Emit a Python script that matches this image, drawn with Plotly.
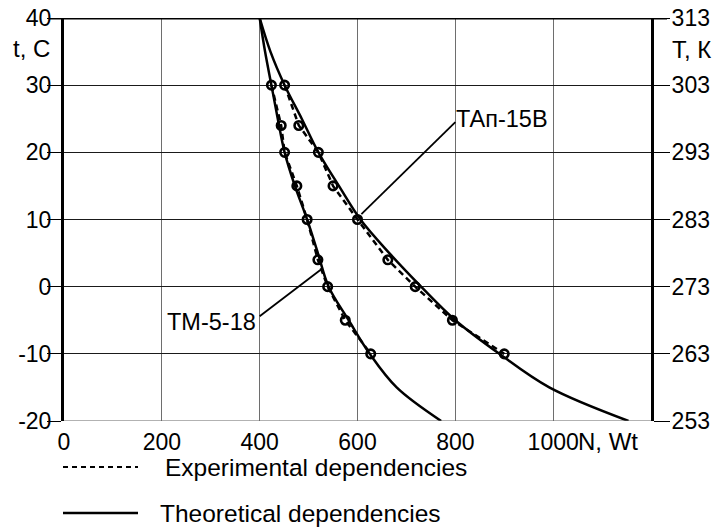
import plotly.graph_objects as go

# Theoretical curves (t in C, N in Wt)
t_theory = [40, 35, 30, 25, 20, 15, 10, 5, 0, -5, -10, -15, -20]
n_theory_tm = [400, 411, 424, 437, 451, 472, 497, 519, 541, 582, 625, 680, 771]
n_theory_tap = [400, 422, 451, 486, 520, 562, 606, 665, 730, 800, 890, 992, 1154]

# Experimental points
t_exp = [30, 24, 20, 15, 10, 4, 0, -5, -10]
n_exp_tm = [424, 444, 451, 476, 497, 519, 539, 575, 627]
n_exp_tap = [451, 480, 520, 550, 600, 662, 718, 794, 900]

x_ticks = [0, 200, 400, 600, 800, 1000]
y_ticks = [-20, -10, 0, 10, 20, 30, 40]
k_ticks = [253, 263, 273, 283, 293, 303, 313]

FONT = "Liberation Sans, Arial, sans-serif"
L, R, T, B = 64, 69, 18, 111
W, H = 720, 532
PW, PH = W - L - R, H - T - B

def px(xp):
    return (xp - L) / PW

def py(yp):
    return (H - B - yp) / PH

fig = go.Figure()

for n in (n_theory_tm, n_theory_tap):
    fig.add_trace(go.Scatter(x=n, y=t_theory, mode="lines",
                             line=dict(color="black", width=2.5, shape="spline"),
                             showlegend=False, hoverinfo="skip"))
for n in (n_exp_tm, n_exp_tap):
    fig.add_trace(go.Scatter(x=n, y=t_exp, mode="lines+markers",
                             line=dict(color="black", width=2.5, dash="6px,4px"),
                             marker=dict(symbol="circle-open", size=8.5, color="black",
                                         line=dict(width=2.6)),
                             showlegend=False, hoverinfo="skip"))

# invisible trace for the right axis
fig.add_trace(go.Scatter(x=[None], y=[None], yaxis="y2", showlegend=False))

shapes = []
# top thick line (t = 40) with ticks both sides
shapes.append(dict(type="line", xref="paper", yref="y", x0=px(50), x1=px(667),
                   y0=40, y1=40, line=dict(color="black", width=3)))
# bottom line (t = -20)
shapes.append(dict(type="line", xref="paper", yref="y", x0=0, x1=1,
                   y0=-20, y1=-20, line=dict(color="#666", width=1.2)))
# annotation leader lines
shapes.append(dict(type="line", xref="x", yref="y", x0=800, y0=24.5, x1=608, y1=10.8,
                   line=dict(color="black", width=1.8)))
shapes.append(dict(type="line", xref="x", yref="y", x0=400, y0=-4.4, x1=526, y1=2.6,
                   line=dict(color="black", width=1.8)))
# legend samples
shapes.append(dict(type="line", xref="paper", yref="paper", x0=px(63), x1=px(138),
                   y0=py(467), y1=py(467), line=dict(color="black", width=2.2, dash="5px,4px")))
shapes.append(dict(type="line", xref="paper", yref="paper", x0=px(63), x1=px(138),
                   y0=py(513), y1=py(513), line=dict(color="black", width=2.5)))

annotations = [
    dict(text="ТАп-15В", xref="x", yref="y", x=797, y=25.0, xanchor="left", yanchor="middle",
         showarrow=False, font=dict(size=23.5, color="black", family=FONT)),
    dict(text="ТМ-5-18", xref="x", yref="y", x=206, y=-5.3, xanchor="left", yanchor="middle",
         showarrow=False, font=dict(size=23.5, color="black", family=FONT)),
    dict(text="t, C", xref="paper", yref="paper", x=px(11), y=py(48), xanchor="left",
         yanchor="middle", showarrow=False, font=dict(size=24, color="black", family=FONT)),
    dict(text="T, К", xref="paper", yref="paper", x=px(670), y=py(50), xanchor="left",
         yanchor="middle", showarrow=False, font=dict(size=24, color="black", family=FONT)),
    dict(text="N, Wt", xref="paper", yref="paper", x=px(576), y=py(441), xanchor="left",
         yanchor="middle", showarrow=False, font=dict(size=24, color="black", family=FONT)),
    dict(text="Experimental dependencies", xref="paper", yref="paper", x=px(163), y=py(467),
         xanchor="left", yanchor="middle", showarrow=False,
         font=dict(size=24.5, color="black", family=FONT)),
    dict(text="Theoretical dependencies", xref="paper", yref="paper", x=px(158), y=py(513),
         xanchor="left", yanchor="middle", showarrow=False,
         font=dict(size=24.5, color="black", family=FONT)),
]

fig.update_layout(
    width=W, height=H,
    margin=dict(l=L, r=R, t=T, b=B, autoexpand=False),
    paper_bgcolor="white", plot_bgcolor="white",
    font=dict(family=FONT, size=23, color="black"),
    showlegend=False,
    xaxis=dict(range=[0, 1200], tickvals=x_ticks, ticktext=[str(v) for v in x_ticks],
               showgrid=True, gridcolor="#6e6e6e", gridwidth=1.2, automargin=False,
               showline=False, zeroline=False, ticks="", ticklabelstandoff=5,
               tickfont=dict(size=23)),
    yaxis=dict(range=[-20, 40], tickvals=y_ticks, ticktext=[str(v) for v in y_ticks],
               showgrid=True, gridcolor="#1a1a1a", gridwidth=1, automargin=False,
               showline=True, linecolor="black", linewidth=3, mirror=False,
               zeroline=False, ticks="outside", ticklen=14, tickwidth=1.2, tickcolor="black",
               ticklabelstandoff=-9, tickfont=dict(size=23)),
    yaxis2=dict(range=[253, 313], tickvals=k_ticks, ticktext=[str(v) for v in k_ticks],
                overlaying="y", side="right", showgrid=False, zeroline=False, automargin=False,
                showline=True, linecolor="black", linewidth=3,
                ticks="outside", ticklen=16, tickwidth=1.2, tickcolor="black",
                ticklabelstandoff=-3, tickfont=dict(size=23)),
    shapes=shapes,
    annotations=annotations,
)

fig.write_html(
    "out.html",
    config={"displayModeBar": False},
    post_script="document.body.style.margin='0';document.body.style.padding='0';"
                "document.body.style.overflow='hidden';",
)
